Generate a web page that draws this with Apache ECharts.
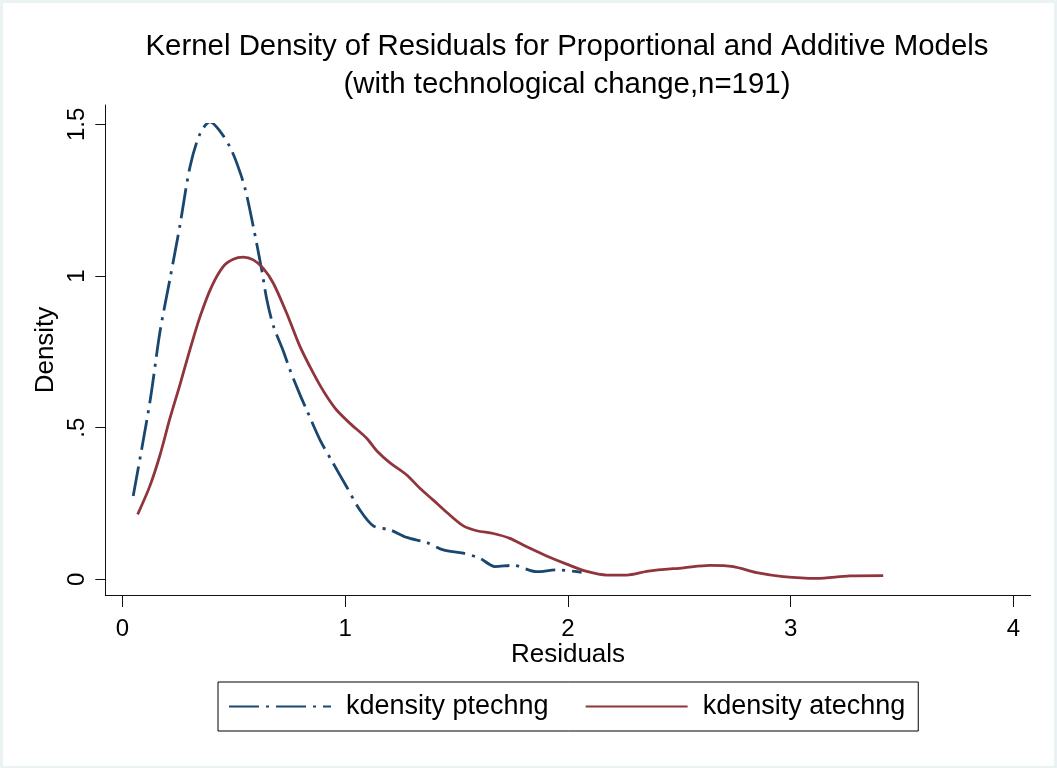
<!DOCTYPE html>
<html>
<head>
<meta charset="utf-8">
<script src="https://cdn.jsdelivr.net/npm/echarts@6/dist/echarts.min.js"></script>
<style>
  html, body { margin: 0; padding: 0; background: #eaf2f3; }
  #bg { position: absolute; left: 3px; top: 3px; width: 1051px; height: 763px; background: #ffffff; }
  #chart { position: absolute; left: 0; top: 0; width: 1057px; height: 768px; }
</style>
</head>
<body>
<div id="bg"></div>
<div id="chart"></div>
<script>
const titleLines = ['Kernel Density of Residuals for Proportional and Additive Models', '(with technological change,n=191)'];
const xAxisTitle = 'Residuals';
const yAxisTitle = 'Density';
const seriesNames = ['kdensity ptechng', 'kdensity atechng'];
const xTickLabels = ['0', '1', '2', '3', '4'];
const yTickLabels = ['0', '.5', '1', '1.5'];

const ptechngX = [0.049, 0.124, 0.169, 0.214, 0.259, 0.304, 0.349, 0.394, 0.439, 0.484, 0.514, 0.551, 0.588, 0.626, 0.648, 0.678, 0.723, 0.753, 0.798, 0.828, 0.888, 0.947, 1.007, 1.067, 1.127, 1.202, 1.277, 1.367, 1.441, 1.531, 1.606, 1.673, 1.755, 1.860, 1.950, 2.062];
const ptechngY = [0.275, 0.585, 0.815, 0.990, 1.168, 1.360, 1.469, 1.508, 1.477, 1.424, 1.372, 1.289, 1.163, 1.020, 0.925, 0.836, 0.752, 0.690, 0.608, 0.558, 0.459, 0.382, 0.305, 0.228, 0.176, 0.163, 0.138, 0.121, 0.097, 0.086, 0.069, 0.042, 0.046, 0.025, 0.031, 0.023];

const atechngX = [0.069, 0.124, 0.169, 0.214, 0.259, 0.304, 0.349, 0.401, 0.453, 0.498, 0.543, 0.588, 0.633, 0.678, 0.738, 0.798, 0.843, 0.887, 0.925, 0.962, 1.022, 1.097, 1.142, 1.202, 1.277, 1.336, 1.396, 1.456, 1.531, 1.591, 1.666, 1.740, 1.816, 1.905, 1.995, 2.085, 2.175, 2.264, 2.361, 2.519, 2.638, 2.743, 2.848, 2.967, 3.117, 3.267, 3.416];
const atechngY = [0.214, 0.308, 0.409, 0.531, 0.642, 0.758, 0.866, 0.965, 1.031, 1.055, 1.062, 1.053, 1.025, 0.976, 0.877, 0.767, 0.700, 0.640, 0.595, 0.558, 0.514, 0.465, 0.424, 0.384, 0.344, 0.300, 0.261, 0.221, 0.176, 0.160, 0.151, 0.135, 0.107, 0.077, 0.050, 0.026, 0.014, 0.014, 0.027, 0.038, 0.046, 0.042, 0.022, 0.009, 0.003, 0.011, 0.012];

const FONT = "'Liberation Sans', Arial, Helvetica, sans-serif";
const zip = (xs, ys) => xs.map((x, i) => [x, ys[i]]);
const axisColor = '#111';

const chart = echarts.init(document.getElementById('chart'), null, { renderer: 'canvas' });
chart.setOption({
  backgroundColor: 'transparent',
  animation: false,
  textStyle: { fontFamily: FONT, color: '#000' },
  title: {
    text: titleLines.join('\n'),
    left: 567,
    top: 28,
    padding: 0,
    textAlign: 'center',
    textStyle: { fontFamily: FONT, fontSize: 29.4, fontWeight: 'normal', color: '#000', lineHeight: 38 }
  },
  legend: {
    left: 218,
    top: 682,
    padding: [11, 13, 11, 10],
    borderColor: '#000',
    borderWidth: 1,
    itemWidth: 102,
    itemHeight: 14,
    itemGap: 36,
    itemStyle: { opacity: 0 },
    textStyle: { fontFamily: FONT, fontSize: 27, color: '#000', padding: [0, 0, 0, 10] },
    data: seriesNames
  },
  grid: [
    { left: 122.3, right: 43.7, top: 124.3, bottom: 188.7 },
    { left: 105.3, right: 26.3, top: 105, bottom: 173 }
  ],
  xAxis: [
    {
      gridIndex: 0, type: 'value', min: 0, max: 4, interval: 1, offset: 15.7,
      axisLine: { show: false, onZero: false },
      axisTick: { show: true, length: 12, lineStyle: { color: axisColor, width: 1 } },
      axisLabel: { fontSize: 24, margin: 22, color: '#000', fontFamily: FONT, formatter: (v, i) => xTickLabels[i] },
      splitLine: { show: false }
    },
    {
      gridIndex: 1, type: 'value', min: 0, max: 1,
      axisLine: { show: true, onZero: false, lineStyle: { color: axisColor, width: 1 } },
      axisTick: { show: false }, axisLabel: { show: false }, splitLine: { show: false },
      name: xAxisTitle, nameLocation: 'middle', nameGap: 47,
      nameTextStyle: { fontSize: 26, color: '#000', fontFamily: FONT }
    }
  ],
  yAxis: [
    {
      gridIndex: 0, type: 'value', min: 0, max: 1.5, interval: 0.5, offset: 17,
      axisLine: { show: false, onZero: false },
      axisTick: { show: true, length: 10, lineStyle: { color: axisColor, width: 1 } },
      axisLabel: { fontSize: 24, margin: 16, rotate: 90, color: '#000', fontFamily: FONT, formatter: (v, i) => yTickLabels[i] },
      splitLine: { show: false }
    },
    {
      gridIndex: 1, type: 'value', min: 0, max: 1,
      axisLine: { show: true, onZero: false, lineStyle: { color: axisColor, width: 1 } },
      axisTick: { show: false }, axisLabel: { show: false }, splitLine: { show: false },
      name: yAxisTitle, nameLocation: 'middle', nameGap: 46, nameRotate: 90,
      nameTextStyle: { fontSize: 26, color: '#000', fontFamily: FONT }
    }
  ],
  series: [
    {
      name: seriesNames[0], type: 'line', xAxisIndex: 0, yAxisIndex: 0,
      data: zip(ptechngX, ptechngY), symbol: 'none', smooth: 0.3,
      color: '#1a476f',
      lineStyle: { color: '#1a476f', width: 2.8, type: [30, 7, 3, 7] }
    },
    {
      name: seriesNames[1], type: 'line', xAxisIndex: 0, yAxisIndex: 0,
      data: zip(atechngX, atechngY), symbol: 'none', smooth: 0.3,
      color: '#90353b',
      lineStyle: { color: '#90353b', width: 2.8, type: 'solid' }
    }
  ]
});
</script>
</body>
</html>
